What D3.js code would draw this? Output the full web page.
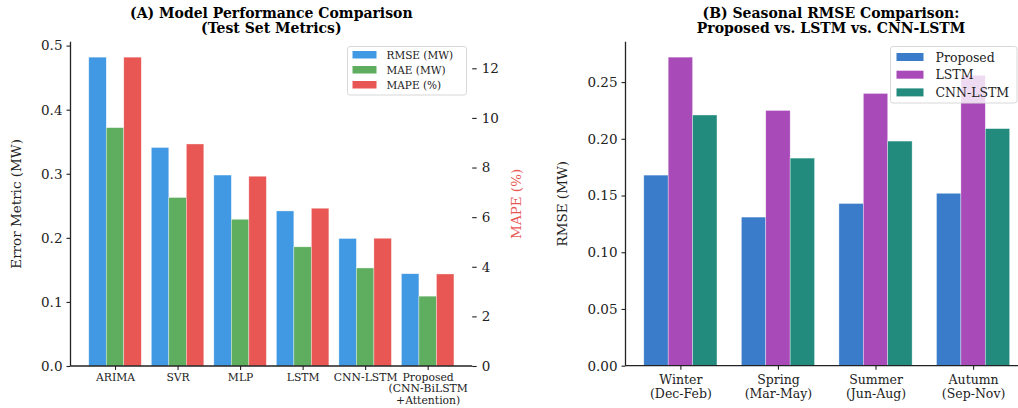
<!DOCTYPE html>
<html>
<head>
<meta charset="utf-8">
<script src="https://cdn.jsdelivr.net/npm/d3@7"></script>
<style>
  body { margin: 0; background: #fff; }
  svg { display: block; font-family: "DejaVu Serif", serif; }
  .axis text { fill: #222; font-family: "DejaVu Serif", serif; }
  .axis line, .axis path { stroke: #222; }
</style>
</head>
<body>
<svg id="chart" width="1018" height="408"></svg>
<script>
// Panel A data
const models = ['ARIMA', 'SVR', 'MLP', 'LSTM', 'CNN-LSTM', 'Proposed\n(CNN-BiLSTM\n+Attention)'];
const rmse = [0.482, 0.341, 0.298, 0.242, 0.199, 0.144];
const mae = [0.372, 0.263, 0.229, 0.186, 0.153, 0.109];
const mape = [12.45, 8.95, 7.65, 6.36, 5.15, 3.71];
const errTicks = [0, 0.1, 0.2, 0.3, 0.4, 0.5];
const mapeTicks = [0, 2, 4, 6, 8, 10, 12];

// Panel B data
const seasons = ['Winter\n(Dec-Feb)', 'Spring\n(Mar-May)', 'Summer\n(Jun-Aug)', 'Autumn\n(Sep-Nov)'];
const proposed = [0.168, 0.131, 0.143, 0.152];
const lstm = [0.272, 0.225, 0.240, 0.256];
const cnnLstm = [0.221, 0.183, 0.198, 0.209];
const rmseTicks = [0, 0.05, 0.10, 0.15, 0.20, 0.25];

const svg = d3.select('#chart');

// helper: split tick labels on newlines
function multiline(sel, lh) {
  sel.selectAll('.tick text').each(function () {
    const t = d3.select(this);
    const lines = t.text().split('\n');
    t.text(null);
    lines.forEach((l, k) => {
      t.append('tspan').attr('x', 0).attr('dy', k === 0 ? '0.71em' : lh + 'px').text(l);
    });
  });
}

// drop the sans-serif default d3 puts on axis groups
function serif(a) {
  a.attr('font-family', null).attr('font-size', null);
}

// ---------------- Panel A ----------------
{
  const w = 0.28;
  const top = 41.7, bottom = 366, left = 70.5, right = 472.2;
  const x = d3.scaleLinear().domain([-1.5 * w - 0.292, 5 + 1.5 * w + 0.292]).range([left, right]);
  const y = d3.scaleLinear().domain([0, d3.max(rmse) * 1.05]).range([bottom, top]);
  const y2 = d3.scaleLinear().domain([0, d3.max(mape) * 1.05]).range([bottom, top]);
  const g = svg.append('g');

  const series = [
    { name: 'RMSE (MW)', values: rmse, scale: y, color: '#4299e3', off: -w },
    { name: 'MAE (MW)', values: mae, scale: y, color: '#5fae60', off: 0 },
    { name: 'MAPE (%)', values: mape, scale: y2, color: '#e85754', off: w }
  ];

  series.forEach(s => {
    g.append('g').selectAll('rect').data(s.values).join('rect')
      .attr('x', (d, i) => x(i + s.off - w / 2))
      .attr('width', x(w) - x(0))
      .attr('y', d => s.scale(d))
      .attr('height', d => bottom - s.scale(d))
      .attr('fill', s.color)
      .attr('stroke', '#fff').attr('stroke-opacity', 0.6).attr('stroke-width', 0.6);
  });

  // left axis
  const ya = g.append('g').attr('class', 'axis').attr('transform', `translate(${left},0)`)
    .call(d3.axisLeft(y).tickValues(errTicks).tickFormat(d3.format('.1f')).tickSize(4).tickPadding(4))
    .call(a => a.select('.domain').remove()).call(serif);
  ya.selectAll('text').style('font-size', '13.5px');
  ya.selectAll('line').attr('stroke-width', 1.1);

  // right axis (MAPE)
  const y2a = g.append('g').attr('class', 'axis').attr('transform', `translate(${right},0)`)
    .call(d3.axisRight(y2).tickValues(mapeTicks).tickSize(4.5).tickPadding(5))
    .call(a => a.select('.domain').remove()).call(serif);
  y2a.selectAll('text').style('font-size', '13.5px');
  y2a.selectAll('line').attr('stroke-width', 1.1);

  // bottom axis
  const xa = g.append('g').attr('class', 'axis').attr('transform', `translate(0,${bottom})`)
    .call(d3.axisBottom(x).tickValues(d3.range(models.length)).tickFormat(i => models[i]).tickSize(4).tickPadding(3))
    .call(a => a.select('.domain').remove()).call(serif);
  xa.selectAll('text').style('font-size', '10.8px');
  xa.selectAll('line').attr('stroke-width', 1.1);
  multiline(xa, 11.5);

  // spines
  g.append('line').attr('x1', left).attr('x2', left).attr('y1', top).attr('y2', bottom).attr('stroke', '#222').attr('stroke-width', 1.3);
  g.append('line').attr('x1', left).attr('x2', right).attr('y1', bottom).attr('y2', bottom).attr('stroke', '#222').attr('stroke-width', 1.3);

  // axis titles
  g.append('text').attr('transform', `translate(21,${(top + bottom) / 2}) rotate(-90)`)
    .attr('text-anchor', 'middle').style('font-size', '13.5px').attr('fill', '#222').text('Error Metric (MW)');
  g.append('text').attr('transform', `translate(521,${(top + bottom) / 2}) rotate(-90)`)
    .attr('text-anchor', 'middle').style('font-size', '13.5px').attr('fill', '#e85754').text('MAPE (%)');

  // title
  const cx = (left + right) / 2;
  g.append('text').attr('x', cx).attr('y', 18).attr('text-anchor', 'middle')
    .style('font-size', '14px').style('font-weight', 'bold').text('(A) Model Performance Comparison');
  g.append('text').attr('x', cx).attr('y', 33).attr('text-anchor', 'middle')
    .style('font-size', '14px').style('font-weight', 'bold').text('(Test Set Metrics)');

  // legend
  const lg = g.append('g').attr('transform', 'translate(347.5,46.5)');
  lg.append('rect').attr('width', 119).attr('height', 48.5).attr('rx', 2.5)
    .attr('fill', '#fff').attr('fill-opacity', 0.8).attr('stroke', '#d8d8d8');
  series.forEach((s, i) => {
    const ry = 8.5 + i * 15;
    lg.append('rect').attr('x', 5).attr('y', ry - 4).attr('width', 24).attr('height', 7.5).attr('fill', s.color);
    lg.append('text').attr('x', 39).attr('y', ry + 4).style('font-size', '10.5px').attr('fill', '#222').text(s.name);
  });
}

// ---------------- Panel B ----------------
{
  const w = 0.25;
  const top = 41.7, bottom = 365.7, left = 625.5;
  const step = 97.57;
  const x = d3.scaleLinear().domain([-0.5625, 3.5625]).range([left, left + 4.125 * step]);
  const y = d3.scaleLinear().domain([0, d3.max(lstm) * 1.05]).range([bottom, top]);
  const g = svg.append('g');

  const series = [
    { name: 'Proposed', values: proposed, color: '#3a7cc9', off: -w },
    { name: 'LSTM', values: lstm, color: '#a94ab9', off: 0 },
    { name: 'CNN-LSTM', values: cnnLstm, color: '#238b7e', off: w }
  ];

  series.forEach(s => {
    g.append('g').selectAll('rect').data(s.values).join('rect')
      .attr('x', (d, i) => x(i + s.off - w / 2))
      .attr('width', x(w) - x(0))
      .attr('y', d => y(d))
      .attr('height', d => bottom - y(d))
      .attr('fill', s.color)
      .attr('stroke', '#fff').attr('stroke-opacity', 0.6).attr('stroke-width', 0.6);
  });

  const ya = g.append('g').attr('class', 'axis').attr('transform', `translate(${left},0)`)
    .call(d3.axisLeft(y).tickValues(rmseTicks).tickFormat(d3.format('.2f')).tickSize(4).tickPadding(4))
    .call(a => a.select('.domain').remove()).call(serif);
  ya.selectAll('text').style('font-size', '13.5px');
  ya.selectAll('line').attr('stroke-width', 1.1);

  const xa = g.append('g').attr('class', 'axis').attr('transform', `translate(0,${bottom})`)
    .call(d3.axisBottom(x).tickValues(d3.range(seasons.length)).tickFormat(i => seasons[i]).tickSize(4).tickPadding(5))
    .call(a => a.select('.domain').remove()).call(serif);
  xa.selectAll('text').style('font-size', '12.5px');
  xa.selectAll('line').attr('stroke-width', 1.1);
  multiline(xa, 14);

  g.append('line').attr('x1', left).attr('x2', left).attr('y1', top).attr('y2', bottom).attr('stroke', '#222').attr('stroke-width', 1.3);
  g.append('line').attr('x1', left).attr('x2', 1018).attr('y1', bottom).attr('y2', bottom).attr('stroke', '#222').attr('stroke-width', 1.3);

  g.append('text').attr('transform', `translate(567,${(top + bottom) / 2}) rotate(-90)`)
    .attr('text-anchor', 'middle').style('font-size', '13.5px').attr('fill', '#222').text('RMSE (MW)');

  const cx = 831;
  g.append('text').attr('x', cx).attr('y', 18).attr('text-anchor', 'middle')
    .style('font-size', '14px').style('font-weight', 'bold').text('(B) Seasonal RMSE Comparison:');
  g.append('text').attr('x', cx).attr('y', 33).attr('text-anchor', 'middle')
    .style('font-size', '14px').style('font-weight', 'bold').text('Proposed vs. LSTM vs. CNN-LSTM');

  const lg = g.append('g').attr('transform', 'translate(890.5,46.5)');
  lg.append('rect').attr('width', 126.5).attr('height', 56.5).attr('rx', 2.5)
    .attr('fill', '#fff').attr('fill-opacity', 0.8).attr('stroke', '#d8d8d8');
  series.forEach((s, i) => {
    const ry = 10.5 + i * 17.7;
    lg.append('rect').attr('x', 6).attr('y', ry - 4).attr('width', 27).attr('height', 8).attr('fill', s.color);
    lg.append('text').attr('x', 45).attr('y', ry + 4.5).style('font-size', '12.5px').attr('fill', '#222').text(s.name);
  });
}
</script>
</body>
</html>
